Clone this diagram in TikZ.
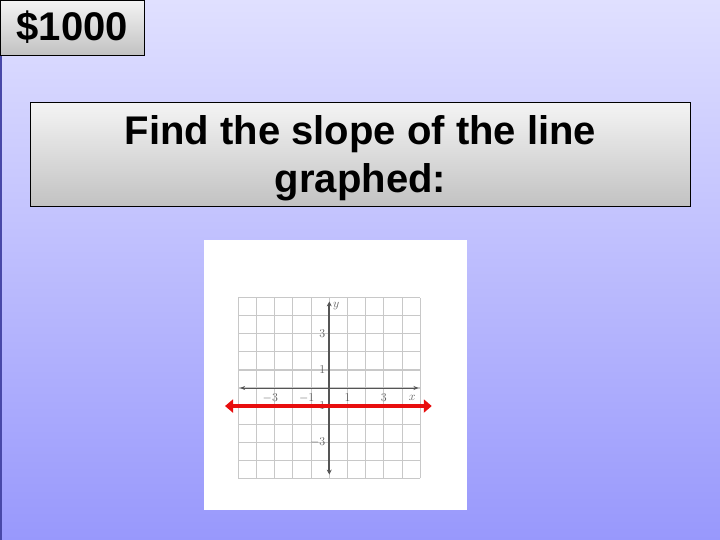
\documentclass[tikz,border=0pt]{standalone}
\usepackage{fontspec}
\usepackage{tikz}
\usetikzlibrary{arrows.meta,positioning,calc}
\newfontfamily\slidefont{Liberation Sans}

\definecolor{bgtop}{RGB}{224,224,255}
\definecolor{bgbottom}{RGB}{152,152,252}
\definecolor{edgeblue}{RGB}{72,72,168}
\definecolor{boxtop}{RGB}{244,244,244}
\definecolor{boxbottom}{RGB}{194,194,194}
\definecolor{gridgray}{RGB}{200,200,200}
\definecolor{axisgray}{RGB}{85,85,85}
\definecolor{labelgray}{RGB}{95,95,95}
\definecolor{lineRed}{RGB}{232,14,14}

\tikzset{
  slidebox/.style={draw=black, line width=0.8pt, top color=boxtop, bottom color=boxbottom,
    font=\slidefont\bfseries\fontsize{40}{48}\selectfont, align=center, inner sep=0pt},
  ticklabel/.style={text=labelgray, font=\fontsize{13}{13}\selectfont, inner sep=1pt},
}

\begin{document}
\begin{tikzpicture}[x=1pt, y=-1pt]
\useasboundingbox (0,0) rectangle (720,540);
\shade[top color=bgtop, bottom color=bgbottom] (0,0) rectangle (720,540);
\draw[edgeblue, line width=1.5pt] (0.75,55) -- (0.75,540);

\node[slidebox, minimum width=144.5pt, minimum height=55pt] (price) at (72.25,27.5) {\$1000};
\node[slidebox, minimum width=660pt, minimum height=104pt] (question) at (360.5,154.5) {\rule{0pt}{37pt}Find the slope of the line\\graphed:};

\node[fill=white, minimum width=263pt, minimum height=270pt, inner sep=0pt] (graph) at (335.5,375) {};

\begin{scope}[shift={(329.3,388)}, x=18.2pt, y=18.04pt]
\coordinate (O) at (0,0);
\coordinate (xl) at (-4.9,0);
\coordinate (xr) at (4.9,0);
\coordinate (yt) at (0,4.8);
\coordinate (yb) at (0,-4.8);
\coordinate (rl) at (-5.73,-1);
\coordinate (rr) at (5.63,-1);

\draw[gridgray, line width=1.1pt, step={(1,1)}] (-5,-5) grid (5,5);

\draw[axisgray, line width=1pt, {Stealth[length=5pt,width=4pt]}-{Stealth[length=5pt,width=4pt]}] (xl) -- (xr);
\draw[axisgray, line width=1.8pt, {Stealth[length=5pt,width=5pt]}-{Stealth[length=5pt,width=5pt]}] (yb) -- (yt);

\foreach \k/\dx in {-3/-0.24, -1/-0.24, 1/0, 3/0}
  \node[ticklabel] (xt\k) at (\k+\dx,-0.55) {$\k$};
\foreach \k in {-3, -1, 1, 3}
  \node[ticklabel, anchor=east] (yt\k) at (-0.15,\k) {$\k$};
\node[ticklabel] (xlab) at (4.56,-0.56) {$x$};
\node[ticklabel] (ylab) at (0.38,4.55) {$y$};

\draw[lineRed, line width=4.5pt, {Triangle[length=8pt,width=13pt]}-{Triangle[length=8pt,width=13pt]}] (rl) -- (rr);
\end{scope}
\end{tikzpicture}
\end{document}
